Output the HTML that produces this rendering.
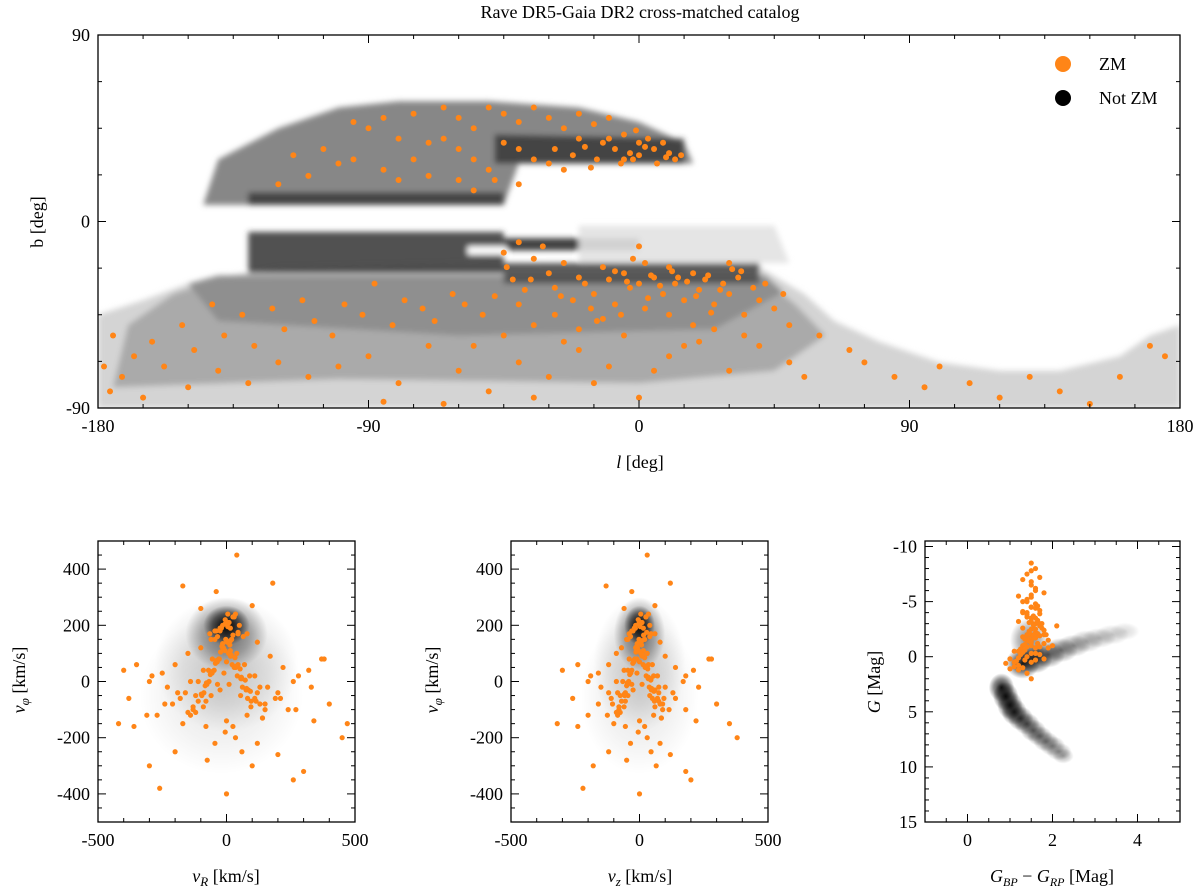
<!DOCTYPE html>
<html><head><meta charset="utf-8">
<style>
body{margin:0;background:#fff;}
svg{display:block;font-family:"Liberation Serif",serif;}
</style></head>
<body>
<svg id="fig" width="1200" height="893" viewBox="0 0 1200 893" xmlns="http://www.w3.org/2000/svg">
<defs>
<radialGradient id="blob" cx="50%" cy="50%" r="50%">
<stop offset="0%" stop-color="#000" stop-opacity="1"/>
<stop offset="60%" stop-color="#000" stop-opacity="0.5"/>
<stop offset="100%" stop-color="#000" stop-opacity="0"/>
</radialGradient>
<filter id="soft" x="-5%" y="-5%" width="110%" height="110%"><feGaussianBlur stdDeviation="3"/></filter>
</defs>
<text x="640" y="18" font-size="18" text-anchor="middle">Rave DR5-Gaia DR2 cross-matched catalog</text>
</svg>
<script>
// ---------- data ----------
const skyTicksL = [-180,-90,0,90,180];
const skyTicksB = [-90,0,90];
// density regions: [grayLevel, [[l,b],...]]
const skyRegionGray = ['#cfcfcf','#a6a6a6','#8c8c8c','#7a7a7a','#3e3e3e','#2e2e2e','#4e4e4e','#e2e2e2'];
const skyRegionPolys = [
 [[-180,-90],[-180,-45],[-165,-38],[-150,-30],[-140,-27],[-120,-22],[-60,-20],[40,-22],[55,-35],[65,-48],[80,-58],[100,-68],[120,-72],[140,-72],[160,-65],[170,-55],[180,-50],[180,-90]],
 [[-175,-80],[-170,-50],[-155,-35],[-140,-28],[40,-26],[52,-40],[62,-55],[45,-72],[0,-78],[-100,-76]],
 [[-150,-30],[-140,-26],[42,-26],[48,-34],[25,-52],[-60,-55],[-140,-48]],
 [[-145,8],[-140,30],[-120,45],[-100,55],[-80,58],[-50,58],[-20,55],[0,48],[15,38],[18,28],[-40,28],[-45,8]],
 [[-130,-5],[-45,-5],[-45,-25],[-130,-25]],
 [[-45,-8],[0,-8],[0,-14],[-45,-14]],
 [[-45,-20],[40,-20],[40,-30],[-45,-30]],
 [[-20,-2],[45,-2],[50,-20],[-20,-20]]
];
const skyDarkBand = [[-130,8],[-45,8],[-45,14],[-130,14]];
const skyDarkBand2 = [[-48,28],[15,28],[15,40],[-48,42]];
const zmL = [-60,-55,-50,-45,-40,-35,-30,-25,-20,-15,-10,-5,0,5,10,12,-2,-8,-12,-18,-22,-28,-3,3,8,-6,6,-14,-30,-35,-40,-45,-50,-55,-60,-65,-70,-75,-80,-85,-90,-95,-100,-105,-110,-115,-120,-75,-65,-85,-95,-25,-48,-55,-60,-70,-80,-40,-10,-5,0,2,-1,9,14,-16,-20,
 -45,-44,-42,-38,-35,-30,-28,-25,-22,-20,-18,-15,-12,-10,-8,-5,-3,0,2,5,8,10,12,15,18,20,22,25,28,30,33,35,38,40,42,45,48,50,-6,-14,2,10,18,-20,-28,-35,-40,-48,-52,-58,-62,-68,-72,-78,-82,-88,-92,-98,-102,-108,-112,-118,-122,-128,-132,-138,-142,-148,-152,-158,-162,-168,-172,-176,-165,-150,-140,-130,-120,-110,-100,-90,-80,-70,-60,-50,-40,-30,-20,-10,0,10,20,30,40,50,55,60,-55,-45,-25,-5,15,25,35,5,-15,-35,-65,-85,70,75,85,95,100,110,120,130,140,150,160,170,175,-175,-178,0,-40,30,-2,-32,
 -8,-4,4,7,11,16,19,23,27,31,-26,-16,-36,-12,3,13,24,34];
const zmB = [50,45,55,52,48,55,50,45,52,47,40,42,38,35,33,30,30,35,38,36,32,35,33,40,38,28,28,30,28,30,35,38,25,30,35,40,38,30,40,25,45,30,28,35,22,32,18,52,55,50,48,25,20,15,20,22,20,18,50,30,32,36,44,31,32,26,40,
 -15,-22,-28,-33,-18,-25,-32,-20,-38,-27,-30,-35,-22,-28,-40,-25,-32,-30,-20,-27,-35,-22,-30,-38,-25,-33,-28,-40,-30,-35,-27,-45,-32,-38,-30,-42,-35,-50,-45,-48,-42,-45,-50,-52,-45,-50,-40,-36,-45,-40,-35,-48,-42,-38,-50,-30,-45,-40,-55,-48,-38,-52,-42,-60,-45,-55,-40,-62,-50,-70,-58,-65,-75,-82,-85,-80,-72,-78,-68,-75,-70,-65,-78,-60,-72,-82,-68,-75,-62,-70,-85,-65,-58,-72,-60,-68,-75,-55,-60,-55,-58,-55,-60,-52,-55,-72,-78,-85,-88,-87,-62,-68,-75,-80,-70,-78,-85,-75,-82,-88,-75,-60,-65,-55,-70,-12,-10,-20,-18,-12,
 -24,-29,-26,-31,-24,-29,-36,-26,-33,-23,-36,-42,-28,-47,-37,-27,-44,-24];

const vTicks = [-500,0,500];
const vphiTicks = [-400,-200,0,200,400];
// density blobs: centre x, centre y, radius x, radius y, strength
const vrBlobX = [0,0,0,-20];
const vrBlobY = [200,170,60,-50];
const vrBlobRX = [90,160,280,320];
const vrBlobRY = [70,130,240,280];
const vrBlobA = [1,0.55,0.18,0.1];
const vR = [10,-20,30,-40,50,5,-60,80,-100,120,-150,170,-200,220,-250,280,-300,330,-380,400,15,-30,45,-70,90,-110,130,-160,190,-210,240,-270,0,25,-5,35,-45,60,-75,100,-130,150,-180,200,-230,260,-290,320,-350,370,-420,450,20,-15,40,-55,70,-90,110,-140,160,-190,210,-240,270,-310,340,-360,10,-25,55,-80,95,-120,140,-170,0,30,-10,60,-35,85,-60,115,-90,5,-5,15,-15,25,-25,35,-35,45,-45,-100,100,-200,200,-300,300,180,-170,260,-260,380,-400,470,0,40,-40,80,-80,120,
 -12,8,-28,22,-48,42,-68,62,-88,82,-6,16,-36,36,-56,56,-76,76,-96,96,-3,13,-23,33,-43,53,-63,73,-83,93,2,-18,18,-38,38,-58,58,-78,78,-98,-130,130,-150,150,-110,110,-140,140,-120,120,-65,65,-45,45,-25,25,-15,15,-5,5];
const vphiR = [210,190,230,180,200,240,150,170,120,140,100,90,60,50,30,20,0,-20,-60,-80,110,80,60,40,20,0,-20,-40,-60,-80,-100,-120,-140,-160,-180,-200,-220,-250,-280,-300,-100,-80,-60,-40,-20,0,20,40,60,80,-150,-200,150,120,100,80,60,40,20,0,-20,-40,-60,-80,-100,-120,-140,-160,-10,-30,-50,-70,-90,-110,-130,-150,70,50,30,10,-10,-30,-50,-70,-90,210,220,190,200,230,180,240,160,170,150,260,270,-250,-260,-300,-320,350,340,-350,-380,80,40,-150,-400,450,320,-120,-160,-220,
 120,100,80,60,40,20,0,-20,-40,-60,110,90,70,50,30,10,-10,-30,-50,-70,150,130,105,85,65,45,25,5,-15,-35,140,125,95,75,55,35,15,-5,-25,-45,-90,-80,-110,-100,-70,-60,-120,-130,-50,-40,170,160,180,175,190,165,135,145,205,195];
const vzBlobX = [0,0,0,0];
const vzBlobY = [200,170,60,-50];
const vzBlobRX = [60,100,180,230];
const vzBlobRY = [70,130,240,280];
const vzBlobA = [1,0.55,0.18,0.1];
const vZ = [10,-20,25,-30,40,5,-50,60,-70,80,-90,100,-120,140,-160,180,-200,230,-260,300,15,-10,35,-45,55,-65,75,-85,95,-105,115,-125,0,20,-5,30,-35,45,-50,65,-80,90,-110,130,-150,170,-190,210,-240,270,-320,380,20,-15,30,-40,50,-60,70,-90,100,-120,140,-160,180,-200,220,-240,10,-25,40,-55,60,-75,85,-100,0,25,-10,45,-30,60,-45,75,-60,5,-5,15,-15,25,-25,35,-35,45,-45,-60,60,-120,120,-180,180,120,-130,200,-220,280,-300,350,0,30,-30,55,-55,80,
 -8,5,-18,14,-30,26,-42,38,-55,50,-4,10,-22,22,-34,34,-46,46,-58,58,-2,8,-14,20,-26,32,-38,44,-50,56,1,-11,11,-23,23,-35,35,-47,47,-59,-80,80,-90,90,-70,70,-85,85,-75,75,-40,40,-28,28,-16,16,-9,9,-3,3];
const vphiZ = vphiR;
const cmdTicksX = [0,2,4];
const cmdTicksY = [-10,-5,0,5,10,15];
const cmdBlobX = [0.8,0.9,1.0,1.1,1.25,1.4,1.55,1.7,1.85,2.0,2.15,2.25,1.3,1.6,1.9,2.2,2.5,2.8,3.1,3.4,3.7,1.45];
const cmdBlobY = [2.8,3.6,4.4,5.0,5.6,6.1,6.7,7.2,7.7,8.1,8.6,9.0,0.6,0.2,-0.2,-0.6,-1.0,-1.4,-1.7,-2.0,-2.3,-1.5];
const cmdBlobRX = [0.3,0.3,0.3,0.3,0.3,0.3,0.3,0.3,0.3,0.3,0.3,0.25,0.4,0.4,0.4,0.4,0.4,0.4,0.4,0.4,0.35,0.45];
const cmdBlobRY = [1.3,1.3,1.3,1.2,1.1,1.0,1.0,0.9,0.9,0.9,0.8,0.7,1.4,1.3,1.2,1.1,1.0,1.0,0.9,0.9,0.8,2.0];
const cmdBlobA = [0.9,0.9,0.85,0.8,0.7,0.6,0.55,0.5,0.45,0.4,0.35,0.3,0.9,0.8,0.6,0.5,0.4,0.3,0.25,0.2,0.15,0.5];
const cmdX = [1.5,1.6,1.4,1.3,1.7,1.5,1.6,1.2,1.8,1.4,1.5,1.6,1.3,1.7,1.5,1.4,1.6,1.2,1.5,1.7,1.4,1.6,1.5,1.3,1.8,1.5,1.1,1.9,1.6,1.4,1.5,1.6,1.7,1.3,1.4,1.5,1.2,1.8,1.6,1.5,1.0,1.1,1.2,1.3,1.4,1.5,1.6,1.7,1.8,1.9,2.0,1.5,1.4,1.6,1.5,1.55,1.45,1.65,1.35,1.7,1.25,1.5,1.6,1.4,1.2,1.8,0.9,1.0,2.1,1.3,1.7,1.5,
 1.35,1.45,1.55,1.65,1.75,1.25,1.35,1.45,1.55,1.65,1.15,1.3,1.4,1.5,1.6,1.7,1.2,1.3,1.45,1.55,1.75,1.85,1.1,1.35,1.5,1.6,1.4,1.3,1.5,1.65];
const cmdY = [-8.5,-8,-7.5,-7,-7.2,-6.5,-6,-5.5,-5.8,-5,-4.5,-4.8,-4,-4.2,-3.5,-3.8,-3,-3.2,-2.5,-2.8,-2,-2.2,-1.5,-1.8,-1.2,-1,-0.5,-0.8,-0.3,0,0.5,0.3,-0.2,1,1.5,2,0.8,0.2,-3.5,-4.5,0.2,0.5,-0.5,-1,-1.5,-2,-2.5,-3,-2,-1.5,-1,-6.8,-5.2,-4.4,-3.2,-2.6,-1.6,-1.2,-0.6,-0.9,-0.2,-7.8,-6.2,-3.6,1.2,-2.4,0.6,1.1,-2.8,-4.1,-3.9,-5.6,
 -1.1,-1.4,-1.9,-2.1,-2.6,-0.7,-1.6,-2.3,-2.9,-3.3,0.4,-0.4,-0.9,-1.3,-1.7,-1.9,0.1,-2.6,-3.1,-3.7,-3.0,-2.0,0.9,0.3,-0.3,-0.8,-4.0,-5.0,-5.4,-4.6];

// ---------- helpers ----------
const svg = document.getElementById('fig');
const NS = 'http://www.w3.org/2000/svg';
function mk(tag, attrs, parent){
  const e = document.createElementNS(NS, tag);
  for (const k in attrs) e.setAttribute(k, attrs[k]);
  (parent||svg).appendChild(e);
  return e;
}
const ORANGE = '#ff8517';

function frame(x0,y0,x1,y1,name){
  const r = mk('rect',{x:x0,y:y0,width:x1-x0,height:y1-y0,fill:'none',stroke:'#000','stroke-width':1.3});
  
  
}
function ticks(x0,y0,x1,y1,sx,sy,xmin,xmax,xMaj,xMin,ymin,ymax,yMaj,yMin){
  const g = mk('g',{stroke:'#000','stroke-width':1});
  
  
  const eps=1e-6;
  for (let v=Math.ceil(xmin/xMin)*xMin; v<=xmax+eps; v+=xMin){
    const isMaj = Math.abs(v/xMaj-Math.round(v/xMaj))<1e-6;
    const L = isMaj?8:4, X=sx(v);
    mk('line',{x1:X,y1:y1,x2:X,y2:y1-L},g); mk('line',{x1:X,y1:y0,x2:X,y2:y0+L},g);
  }
  for (let v=Math.ceil(ymin/yMin)*yMin; v<=ymax+eps; v+=yMin){
    const isMaj = Math.abs(v/yMaj-Math.round(v/yMaj))<1e-6;
    const L = isMaj?8:4, Y=sy(v);
    mk('line',{x1:x0,y1:Y,x2:x0+L,y2:Y},g); mk('line',{x1:x1,y1:Y,x2:x1-L,y2:Y},g);
  }
}
function label(x,y,txt,name,opts){
  const t = mk('text',Object.assign({x:x,y:y,'font-size':18,'text-anchor':'middle'},opts||{}));
  t.textContent = txt;
  
  
  return t;
}

// ---------- top sky panel ----------
const T = {x0:98,y0:35,x1:1180,y1:408};
const sl = l => T.x0 + (l+180)/360*(T.x1-T.x0);
const sb = b => T.y0 + (90-b)/180*(T.y1-T.y0);
const clipT = mk('clipPath',{id:'clipT'}); mk('rect',{x:T.x0,y:T.y0,width:T.x1-T.x0,height:T.y1-T.y0},clipT);
const gClip = mk('g',{'clip-path':'url(#clipT)'});
const gT = mk('g',{filter:'url(#soft)'},gClip);


skyRegionPolys.forEach((poly,i)=>{
  const p = mk('polygon',{points:poly.map(q=>sl(q[0])+','+sb(q[1])).join(' '),fill:skyRegionGray[i],opacity:0.9},gT);
  
  
});
[skyDarkBand,skyDarkBand2].forEach(poly=>{
  const p = mk('polygon',{points:poly.map(q=>sl(q[0])+','+sb(q[1])).join(' '),fill:'#333',opacity:0.8},gT);
  
  
});
const gap = mk('rect',{x:sl(-57),y:sb(-12),width:sl(-44)-sl(-57),height:sb(-16)-sb(-12),fill:'#fff'},gT);


for (let i=0;i<zmL.length;i++){
  const c = mk('circle',{cx:sl(zmL[i]),cy:sb(zmB[i]),r:3,fill:ORANGE},gClip);
  
  
}
frame(T.x0,T.y0,T.x1,T.y1,'sky-plot-frame');
ticks(T.x0,T.y0,T.x1,T.y1,sl,sb,-180,180,90,15,-90,90,90,22.5);
skyTicksL.forEach(v=>label(sl(v),432,String(v),'x-tick-label'));
skyTicksB.forEach(v=>label(T.x0-8,sb(v)+6,String(v),'y-tick-label',{'text-anchor':'end'}));
const xl = label(640,468,'','x-axis-title');
xl.innerHTML = '<tspan font-style="italic">l</tspan> [deg]';
label(0,0,'b [deg]','y-axis-title',{transform:'translate(43,222) rotate(-90)'});
const lg = mk('g',{});


const c1 = mk('circle',{cx:1063,cy:64,r:8,fill:ORANGE},lg);


const c2 = mk('circle',{cx:1063,cy:98,r:8,fill:'#000'},lg);


label(1099,70,'ZM','legend-entry-zm',{'text-anchor':'start'});
label(1099,104,'Not ZM','legend-entry-not-zm',{'text-anchor':'start'});

// ---------- bottom panels ----------
function panel(id,x0,x1,xmin,xmax,ymin,ymax,yInvert,bx,by,brx,bry,ba,px,py,xTicks,yTicks,xMaj,xMin,yMaj,yMin){
  const P={x0:x0,y0:541,x1:x1,y1:822};
  const sx = v => P.x0 + (v-xmin)/(xmax-xmin)*(P.x1-P.x0);
  const sy = yInvert ? (v => P.y0 + (v-ymin)/(ymax-ymin)*(P.y1-P.y0)) : (v => P.y1 - (v-ymin)/(ymax-ymin)*(P.y1-P.y0));
  const cp = mk('clipPath',{id:'clip'+id}); mk('rect',{x:P.x0,y:P.y0,width:P.x1-P.x0,height:P.y1-P.y0},cp);
  const g = mk('g',{'clip-path':'url(#clip'+id+')'});
  
  
  for (let i=0;i<bx.length;i++){
    const cx=sx(bx[i]), cy=sy(by[i]);
    const rx=Math.abs(sx(bx[i]+brx[i])-cx), ry=Math.abs(sy(by[i]+bry[i])-cy);
    const e = mk('ellipse',{cx:cx,cy:cy,rx:rx,ry:ry,fill:'url(#blob)',opacity:ba[i]},g);
    
    
  }
  for (let i=0;i<px.length;i++){
    const c = mk('circle',{cx:sx(px[i]),cy:sy(py[i]),r:2.6,fill:ORANGE},g);
    
    
  }
  frame(P.x0,P.y0,P.x1,P.y1,id+'-frame');
  ticks(P.x0,P.y0,P.x1,P.y1,sx,sy,xmin,xmax,xMaj,xMin,ymin,ymax,yMaj,yMin);
  xTicks.forEach(v=>label(sx(v),846,String(v),'x-tick-label'));
  yTicks.forEach(v=>label(P.x0-8,sy(v)+6,String(v),'y-tick-label',{'text-anchor':'end'}));
  return P;
}
panel('vr-vphi',98,355,-500,500,-500,500,false,vrBlobX,vrBlobY,vrBlobRX,vrBlobRY,vrBlobA,vR,vphiR,vTicks,vphiTicks,500,100,200,50);
panel('vz-vphi',511,768,-500,500,-500,500,false,vzBlobX,vzBlobY,vzBlobRX,vzBlobRY,vzBlobA,vZ,vphiZ,vTicks,vphiTicks,500,100,200,50);
panel('cmd',925,1180,-1,5,-10.5,15,true,cmdBlobX,cmdBlobY,cmdBlobRX,cmdBlobRY,cmdBlobA,cmdX,cmdY,cmdTicksX,cmdTicksY,2,0.5,5,1);

let t;
t = label(226,882,'','x-axis-title-vr'); t.innerHTML='<tspan font-style="italic">v</tspan><tspan font-style="italic" font-size="13" dy="4">R</tspan><tspan dy="-4"> [km/s]</tspan>';
t = label(640,882,'','x-axis-title-vz'); t.innerHTML='<tspan font-style="italic">v</tspan><tspan font-style="italic" font-size="13" dy="4">z</tspan><tspan dy="-4"> [km/s]</tspan>';
t = label(1052,882,'','x-axis-title-color'); t.innerHTML='<tspan font-style="italic">G</tspan><tspan font-style="italic" font-size="12" dy="4">BP</tspan><tspan dy="-4"> − </tspan><tspan font-style="italic">G</tspan><tspan font-style="italic" font-size="12" dy="4">RP</tspan><tspan dy="-4"> [Mag]</tspan>';
t = label(0,0,'','y-axis-title-vphi-1',{transform:'translate(25,680) rotate(-90)'}); t.innerHTML='<tspan font-style="italic">v</tspan><tspan font-style="italic" font-size="13" dy="4">φ</tspan><tspan dy="-4"> [km/s]</tspan>';
t = label(0,0,'','y-axis-title-vphi-2',{transform:'translate(438,680) rotate(-90)'}); t.innerHTML='<tspan font-style="italic">v</tspan><tspan font-style="italic" font-size="13" dy="4">φ</tspan><tspan dy="-4"> [km/s]</tspan>';
t = label(0,0,'','y-axis-title-g',{transform:'translate(880,682) rotate(-90)'}); t.innerHTML='<tspan font-style="italic">G</tspan> [Mag]';
</script>
</body></html>
